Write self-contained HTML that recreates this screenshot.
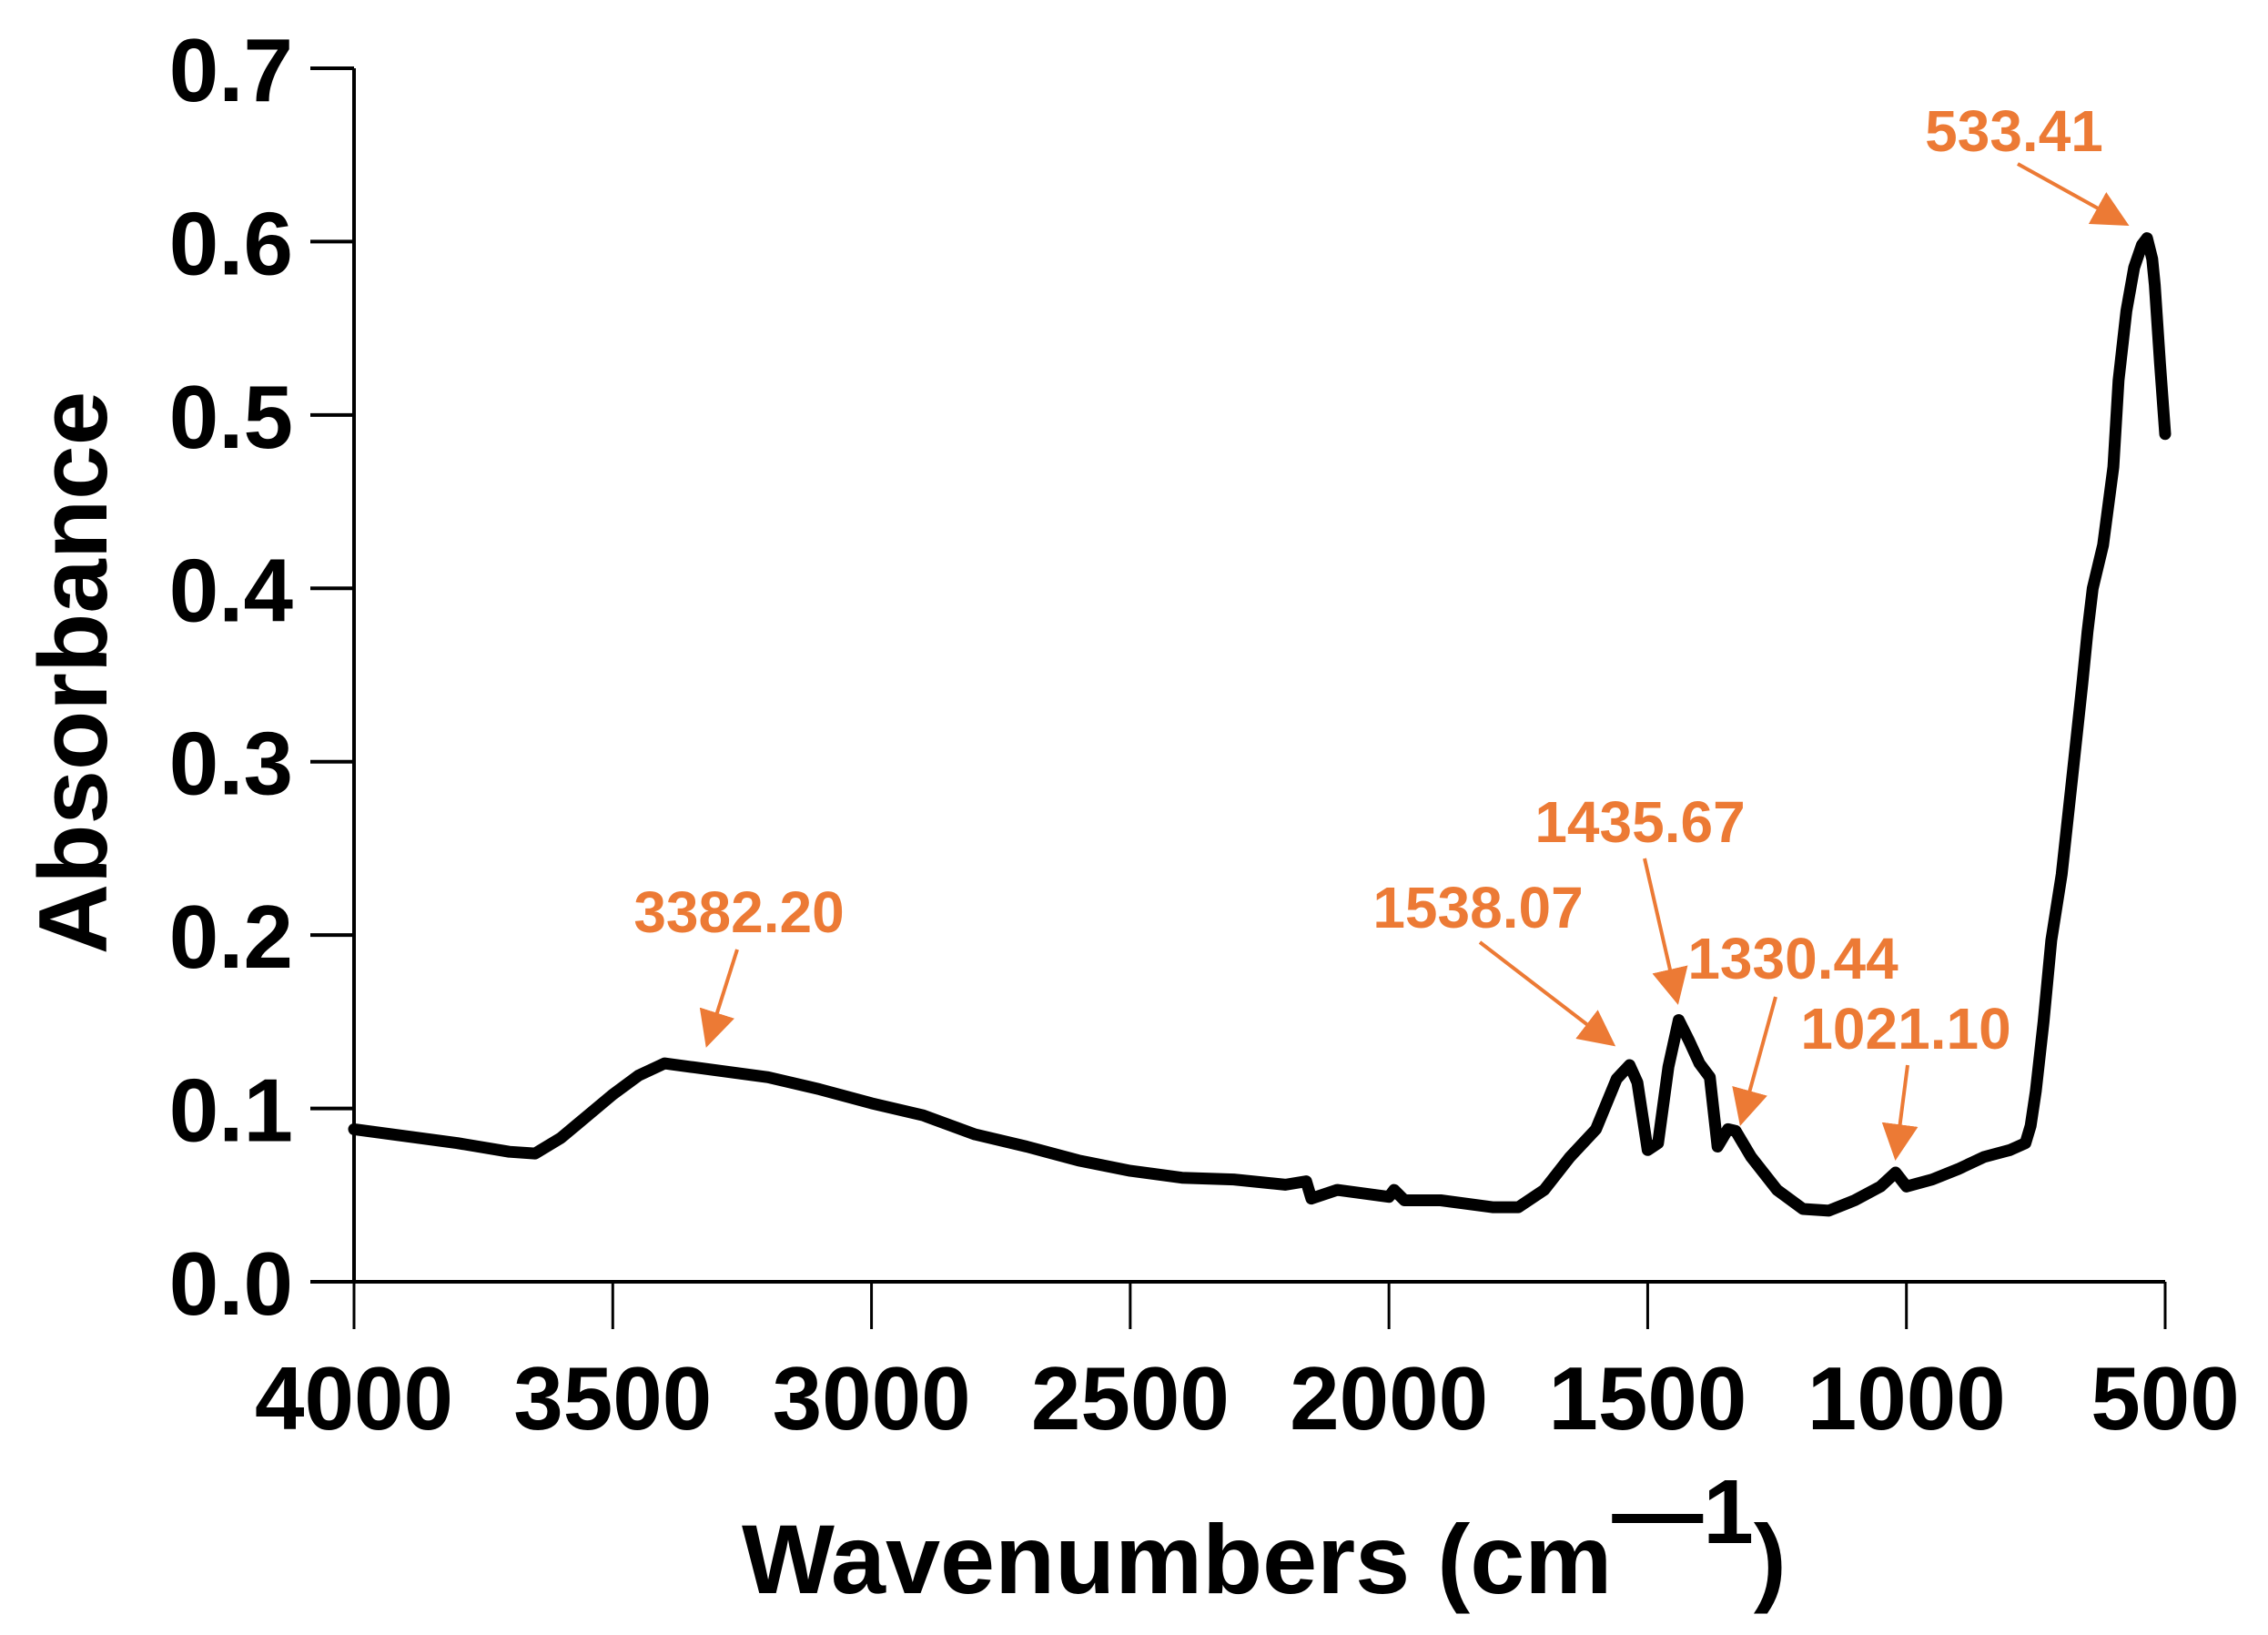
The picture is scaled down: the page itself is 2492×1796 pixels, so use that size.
<!DOCTYPE html>
<html><head><meta charset="utf-8">
<style>
html,body{margin:0;padding:0;background:#fff;}
svg{display:block;}
text{font-family:"Liberation Sans",Arial,sans-serif;font-weight:bold;}
</style></head>
<body>
<svg id="chart" width="2492" height="1796" viewBox="0 0 2492 1796" xmlns="http://www.w3.org/2000/svg">
<defs>
<marker id="ah" markerWidth="10" markerHeight="10" refX="9" refY="5" orient="auto" markerUnits="strokeWidth">
<path d="M0,0 L10,5 L0,10 z" fill="#EC7A35"/>
</marker>
</defs>
<g id="axes"></g>
<g id="series"></g>
<g id="annots"></g>
<text x="0" y="0" font-size="107" text-anchor="middle" transform="translate(117,739) rotate(-90)">Absorbance</text>
<text x="815" y="1750" font-size="108">Wavenumbers (cm<tspan dy="-55" font-size="100">—1</tspan><tspan dy="55">)</tspan></text>
</svg>
<script>
const xTicks = [4000,3500,3000,2500,2000,1500,1000,500];
const yTicks = [0.0,0.1,0.2,0.3,0.4,0.5,0.6,0.7];
const yTickLabels = ["0.0","0.1","0.2","0.3","0.4","0.5","0.6","0.7"];
const wavenumbers = [4000,3800,3700,3650,3600,3500,3450,3400,3350,3300,3200,3100,3000,2900,2800,2700,2600,2500,2400,2300,2200,2160,2150,2100,2000,1990,1970,1900,1800,1750,1700,1650,1600,1560,1535,1520,1500,1480,1460,1440,1420,1400,1380,1365,1345,1330,1300,1250,1200,1150,1100,1050,1021,1000,950,900,850,800,770,760,750,735,720,700,680,660,650,640,620,600,590,575,560,545,535,525,520,510,500];
const absorbance = [0.088,0.080,0.075,0.074,0.083,0.108,0.119,0.126,0.124,0.122,0.118,0.111,0.103,0.096,0.085,0.078,0.070,0.064,0.060,0.059,0.056,0.058,0.048,0.053,0.049,0.053,0.047,0.047,0.043,0.043,0.053,0.072,0.088,0.117,0.125,0.115,0.076,0.080,0.124,0.151,0.139,0.126,0.118,0.078,0.088,0.087,0.072,0.053,0.042,0.041,0.047,0.055,0.063,0.055,0.059,0.065,0.072,0.076,0.080,0.090,0.110,0.150,0.197,0.235,0.290,0.345,0.375,0.400,0.425,0.470,0.520,0.560,0.585,0.598,0.602,0.590,0.575,0.530,0.489];
const peakLabels = ["533.41","3382.20","1538.07","1435.67","1330.44","1021.10"];
const peakLabelPos = [[2213,166],[812,1024],[1624,1019],[1802,925],[1970,1075],[2094,1152]];
const peakArrows = [[2217,180,2336,246],[810,1043,777,1147],[1626,1035,1772,1147],[1807,943,1843,1100],[1951,1095,1913,1233],[2096,1170,2083,1271]];

const NS="http://www.w3.org/2000/svg";
const X0=389,X1=2379,Y0=1408,Y1=75;
function sx(w){return X0+(4000-w)/3500*(X1-X0);}
function sy(v){return Y0-v/0.7*(Y0-Y1);}
function mk(tag,attrs,parent){const e=document.createElementNS(NS,tag);for(const k in attrs)e.setAttribute(k,attrs[k]);parent.appendChild(e);return e;}
const axes=document.getElementById('axes');
let l=mk('line',{x1:X0,y1:Y0,x2:X0,y2:Y1,stroke:'#000','stroke-width':4},axes);


l=mk('line',{x1:X0-48,y1:Y0,x2:X1,y2:Y0,stroke:'#000','stroke-width':4},axes);


yTicks.forEach((v,i)=>{
  const t=mk('line',{x1:X0-48,y1:sy(v),x2:X0,y2:sy(v),stroke:'#000','stroke-width':4},axes);
  
  
  const tx=mk('text',{x:322,y:sy(v)+36,'font-size':98,'text-anchor':'end'},axes);
  tx.textContent=yTickLabels[i];
  
  
});
xTicks.forEach(w=>{
  const t=mk('line',{x1:sx(w),y1:Y0,x2:sx(w),y2:Y0+52,stroke:'#000','stroke-width':3},axes);
  
  
  const tx=mk('text',{x:sx(w),y:1570,'font-size':98,'text-anchor':'middle'},axes);
  tx.textContent=String(w);
  
  
});
const series=document.getElementById('series');
let d='';
wavenumbers.forEach((w,i)=>{d+=(i?'L':'M')+sx(w).toFixed(1)+','+sy(absorbance[i]).toFixed(1);});
const p=mk('path',{d:d,fill:'none',stroke:'#000','stroke-width':13,'stroke-linejoin':'round','stroke-linecap':'round'},series);


const an=document.getElementById('annots');
peakLabels.forEach((s,i)=>{
  const t=mk('text',{x:peakLabelPos[i][0],y:peakLabelPos[i][1],'font-size':64,'text-anchor':'middle',fill:'#EC7A35'},an);
  t.textContent=s;
  
  
  const a=peakArrows[i];
  const ar=mk('line',{x1:a[0],y1:a[1],x2:a[2],y2:a[3],stroke:'#EC7A35','stroke-width':4,'marker-end':'url(#ah)'},an);
  
  
});
</script>
</body></html>
